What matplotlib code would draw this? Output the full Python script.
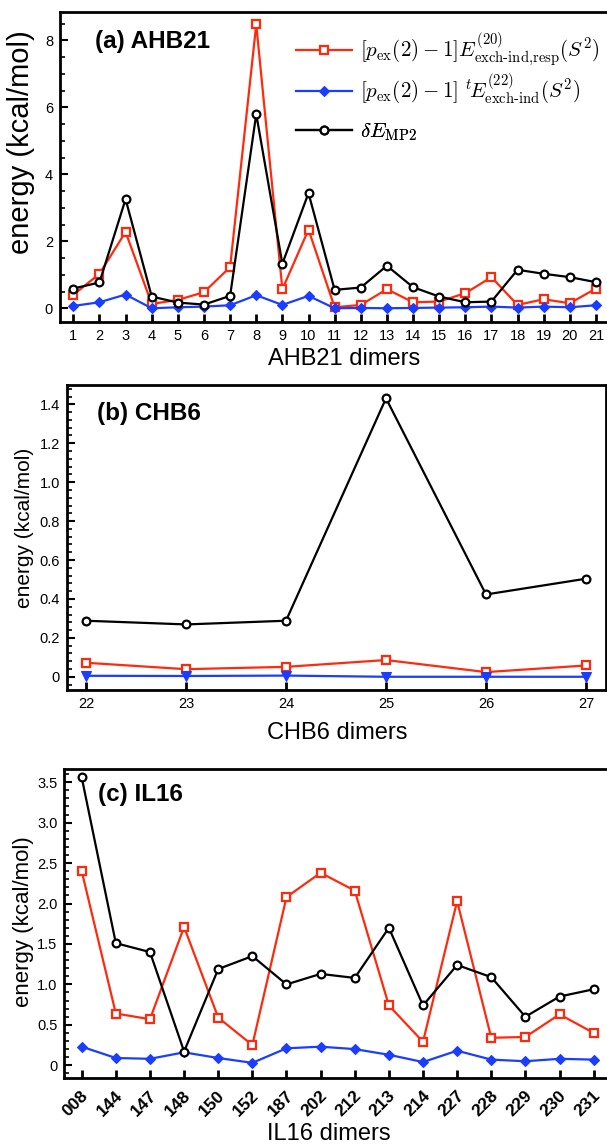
import matplotlib
matplotlib.use("Agg")
import matplotlib.pyplot as plt
from matplotlib.ticker import MultipleLocator, AutoMinorLocator, FixedLocator
from matplotlib.transforms import ScaledTranslation

plt.rcParams['font.family'] = ['Liberation Sans', 'DejaVu Sans']
plt.rcParams['mathtext.fontset'] = 'cm'

RED = '#ff2a0e'
BLUE = '#1a3dff'
BLACK = '#000000'

# ---- (a) AHB21 ----
ahb_dimers = [1, 2, 3, 4, 5, 6, 7, 8, 9, 10, 11, 12, 13, 14, 15, 16, 17, 18, 19, 20, 21]
ahb_resp = [0.40, 1.03, 2.28, 0.13, 0.25, 0.48, 1.23, 8.48, 0.57, 2.35, 0.03,
            0.10, 0.57, 0.18, 0.20, 0.45, 0.93, 0.10, 0.27, 0.15, 0.59]
ahb_t22 = [0.07, 0.18, 0.41, 0.00, 0.03, 0.05, 0.09, 0.39, 0.10, 0.37, 0.00,
           0.01, 0.00, 0.01, 0.02, 0.03, 0.05, 0.02, 0.05, 0.03, 0.09]
ahb_mp2 = [0.59, 0.77, 3.26, 0.35, 0.17, 0.11, 0.37, 5.80, 1.33, 3.44, 0.55,
           0.62, 1.27, 0.63, 0.35, 0.18, 0.20, 1.15, 1.03, 0.93, 0.78]

# ---- (b) CHB6 ----
chb_dimers = [22, 23, 24, 25, 26, 27]
chb_resp = [0.072, 0.039, 0.051, 0.086, 0.024, 0.058]
chb_t22 = [0.005, 0.004, 0.006, 0.000, 0.000, 0.000]
chb_mp2 = [0.288, 0.269, 0.288, 1.431, 0.423, 0.504]

# ---- (c) IL16 ----
il_dimers = ['008', '144', '147', '148', '150', '152', '187', '202',
             '212', '213', '214', '227', '228', '229', '230', '231']
il_resp = [2.40, 0.64, 0.57, 1.71, 0.59, 0.25, 2.08, 2.38,
           2.16, 0.74, 0.29, 2.03, 0.34, 0.35, 0.63, 0.40]
il_t22 = [0.23, 0.09, 0.08, 0.16, 0.09, 0.03, 0.21, 0.23,
          0.20, 0.13, 0.04, 0.18, 0.07, 0.05, 0.08, 0.07]
il_mp2 = [3.56, 1.51, 1.40, 0.17, 1.19, 1.35, 1.00, 1.13,
          1.08, 1.70, 0.74, 1.24, 1.09, 0.60, 0.85, 0.94]

lab_resp = r'$[p_{\rm ex}(2)-1]E^{(20)}_{\text{exch-ind,resp}}(S^2)$'
lab_t22 = r'$[p_{\rm ex}(2)-1]\ {}^{t}\!E^{(22)}_{\text{exch-ind}}(S^2)$'
lab_mp2 = r'$\delta E_{\rm MP2}$'

LW = 1.6
sq = dict(color=RED, marker='s', ms=5.2, mew=1.6, mfc='white', mec=RED, lw=LW, zorder=3)
dm = dict(color=BLUE, marker='D', ms=4.6, mew=0.8, mfc=BLUE, mec=BLUE, lw=LW, zorder=4)
tri = dict(color=BLUE, marker='v', ms=7.5, mew=0.8, mfc=BLUE, mec=BLUE, lw=LW, zorder=4)
ci = dict(color=BLACK, marker='o', ms=5.6, mew=1.6, mfc='white', mec=BLACK, lw=LW, zorder=5)

fig = plt.figure(figsize=(6.07, 11.48), dpi=100)
W, H = 607.0, 1148.0


def add_axes(l, r, t, b):
    return fig.add_axes([l / W, 1 - b / H, (r - l) / W, (b - t) / H])


def style(ax, right_spine=True):
    for s in ax.spines.values():
        s.set_linewidth(2.0)
    ax.spines['right'].set_visible(right_spine)
    ax.tick_params(axis='both', which='both', direction='in', top=False, right=False)
    ax.tick_params(axis='y', which='major', length=6, width=1.5, labelsize=10.5, pad=5)
    ax.tick_params(axis='y', which='minor', length=3.5, width=1.2)
    ax.tick_params(axis='x', which='major', length=6, width=2.0, labelsize=10.5, pad=5)
    ax.tick_params(axis='x', which='minor', length=0)


# (a)
axa = add_axes(60, 609, 12, 322)
la = axa.plot(ahb_dimers, ahb_resp, **sq)[0]
lb = axa.plot(ahb_dimers, ahb_t22, **dm)[0]
lc = axa.plot(ahb_dimers, ahb_mp2, **ci)[0]
axa.set_xlim(0.49, 21.5)
axa.set_ylim(-0.41, 8.85)
axa.xaxis.set_major_locator(FixedLocator(ahb_dimers))
axa.yaxis.set_major_locator(MultipleLocator(2))
axa.yaxis.set_minor_locator(AutoMinorLocator(4))
style(axa, right_spine=False)
axa.set_ylabel('energy (kcal/mol)', fontsize=21)
axa.yaxis.set_label_coords(-0.045, 0.58)
axa.set_xlabel('AHB21 dimers', fontsize=17)
axa.xaxis.set_label_coords(0.517, -0.085)
axa.text(0.064, 0.906, '(a) AHB21', transform=axa.transAxes, fontsize=17.5,
         fontweight='bold', va='center', ha='left')

# one legend row per series, evenly spaced
legend_rows = [(la, lab_resp, 0.880), (lb, lab_t22, 0.752), (lc, lab_mp2, 0.612)]
for handle, text, ypos in legend_rows:
    leg = axa.legend([handle], [text], loc='center left',
                     bbox_to_anchor=(0.4296, ypos), frameon=False,
                     fontsize=15.1, handlelength=2.7, handletextpad=0.38,
                     borderpad=0, borderaxespad=0)
    axa.add_artist(leg)

# (b)
axb = add_axes(66.7, 605.7, 385.3, 690)
axb.plot(chb_dimers, chb_resp, **sq)
axb.plot(chb_dimers, chb_t22, **tri)
axb.plot(chb_dimers, chb_mp2, **ci)
axb.set_xlim(21.807, 27.197)
axb.set_ylim(-0.068, 1.498)
axb.xaxis.set_major_locator(FixedLocator(chb_dimers))
axb.set_yticks([0, 0.2, 0.4, 0.6, 0.8, 1.0, 1.2, 1.4],
               ['0', '0.2', '0.4', '0.6', '0.8', '1.0', '1.2', '1.4'])
axb.yaxis.set_minor_locator(AutoMinorLocator(5))
style(axb, right_spine=True)
axb.set_ylabel('energy (kcal/mol)', fontsize=15)
axb.yaxis.set_label_coords(-0.061, 0.532)
axb.set_xlabel('CHB6 dimers', fontsize=17)
axb.xaxis.set_label_coords(0.502, -0.105)
axb.text(0.0557, 0.909, '(b) CHB6', transform=axb.transAxes, fontsize=17.5,
         fontweight='bold', va='center', ha='left')

# (c)
axc = add_axes(64.3, 609, 769.3, 1078.3)
xc = list(range(len(il_dimers)))
axc.plot(xc, il_resp, **sq)
axc.plot(xc, il_t22, **dm)
axc.plot(xc, il_mp2, **ci)
axc.set_xlim(-0.51, 15.45)
axc.set_ylim(-0.161, 3.66)
axc.set_yticks([0, 0.5, 1.0, 1.5, 2.0, 2.5, 3.0, 3.5],
               ['0', '0.5', '1.0', '1.5', '2.0', '2.5', '3.0', '3.5'])
axc.yaxis.set_minor_locator(AutoMinorLocator(5))
style(axc, right_spine=False)
axc.set_xticks(xc, il_dimers, rotation=45, ha='right', va='top',
               rotation_mode='anchor', fontweight='bold', fontsize=12.5)
shift = ScaledTranslation(-1 / 100, -3 / 100, fig.dpi_scale_trans)
for t in axc.get_xticklabels():
    t.set_transform(t.get_transform() + shift)
axc.set_ylabel('energy (kcal/mol)', fontsize=16)
axc.yaxis.set_label_coords(-0.056, 0.508)
axc.set_xlabel('IL16 dimers', fontsize=17)
axc.xaxis.set_label_coords(0.486, -0.145)
axc.text(0.062, 0.92, '(c) IL16', transform=axc.transAxes, fontsize=17.5,
         fontweight='bold', va='center', ha='left')

fig.savefig('out.png', dpi=100)
